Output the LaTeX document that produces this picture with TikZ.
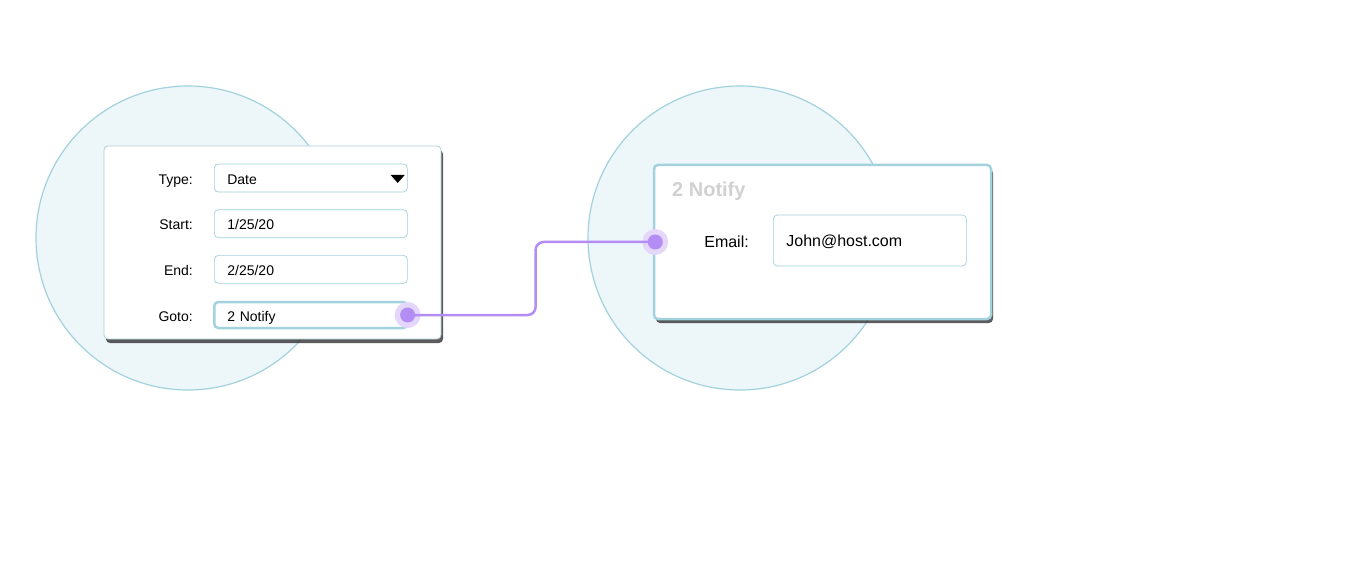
\documentclass[tikz,border=0pt]{standalone}
\usepackage{fontspec}
\setmainfont{Liberation Sans}
\usepackage{xcolor}
\usepackage{tikz}
\usetikzlibrary{positioning, calc, shadows, backgrounds}
\definecolor{bubfill}{HTML}{EDF6F9}
\definecolor{bubline}{HTML}{A3D2DE}
\definecolor{fldline}{HTML}{A0CFDB}
\definecolor{cardline}{HTML}{B4CDD4}
\definecolor{wirec}{HTML}{B38DF3}
\tikzset{
  bub/.style={circle, draw=bubline, fill=bubfill, line width=1.2pt},
  card/.style={rectangle, rounded corners=4pt, draw=cardline, fill=white, line width=0.8pt,
               drop shadow={shadow xshift=2pt, shadow yshift=-4pt, opacity=0.75, fill=black!85}},
  fld/.style={rectangle, rounded corners=4pt, draw=fldline, fill=white, line width=0.7pt,
              minimum height=28pt, text width=167pt, inner xsep=13pt, align=left,
              text height=12.5pt, text depth=0pt, font=\fontsize{14}{16}\selectfont},
  lab/.style={anchor=east, inner sep=0pt, text height=12.5pt, text depth=0pt,
              font=\fontsize{14}{16}\selectfont},
  ttl/.style={anchor=west, inner sep=0pt, text=black!18, text height=14pt, text depth=0pt,
              font=\fontsize{20}{22}\selectfont\bfseries},
  halo/.style={circle, fill=wirec!35, minimum size=26pt, inner sep=0pt},
  dot/.style={circle, fill=wirec, minimum size=15pt, inner sep=0pt},
  wire/.style={draw=wirec, line width=2.5pt, rounded corners=8pt}
}
\begin{document}
\begin{tikzpicture}[x=1pt, y=-1pt]
\useasboundingbox[fill=white] (0,0) rectangle (1350,572);

% bubbles behind the cards
\node[bub, minimum size=304pt] (b1) at (188,238) {};
\node[bub, minimum size=304pt] (b2) at (740,238) {};

% first card: date step
\node[card, minimum width=337pt, minimum height=193pt] (c1) at (272.5,242.5) {};
\node[fld, anchor=west] (f1) at (214,178) {Date};
\node[fld, below=17pt of f1] (f2) {1/25/20};
\node[fld, below=17pt of f2] (f3) {2/25/20};
\node[fld, below=17pt of f3, draw=bubline, line width=2.5pt, minimum height=26pt] (f4) {2 Notify};
\coordinate (lx) at (193,0);
\node[lab] (l1) at (lx |- f1) {Type:};
\node[lab] (l2) at (lx |- f2) {Start:};
\node[lab] (l3) at (lx |- f3) {End:};
\node[lab] (l4) at (lx |- f4) {Goto:};
\fill ($(f1.east)+(-17,-3)$) -- ++(14,0) -- ++(-7,8) -- cycle;

% second card: notify step
\node[card, draw=bubline, line width=2.5pt, minimum width=337pt, minimum height=154pt] (c2) at (822.5,242) {};
\node[ttl] (t2) at (672,190) {2 Notify};
\node[fld, anchor=west, minimum height=51pt, text height=13pt,
      font=\fontsize{16}{18}\selectfont] (f5) at (773,240.5) {John@host.com};
\node[lab, text height=13pt, font=\fontsize{16}{18}\selectfont] (l5) at (749,241) {Email:};

% ports and link
\node[halo] (h1) at ([xshift=-1pt]f4.east) {};
\node[halo] (h2) at ([xshift=2.5pt]c2.west) {};
\draw[wire] (h1.center) -- ([xshift=128pt]h1.center) |- (h2.center);
\node[dot] (p1) at (h1) {};
\node[dot] (p2) at (h2) {};
\end{tikzpicture}
\end{document}
